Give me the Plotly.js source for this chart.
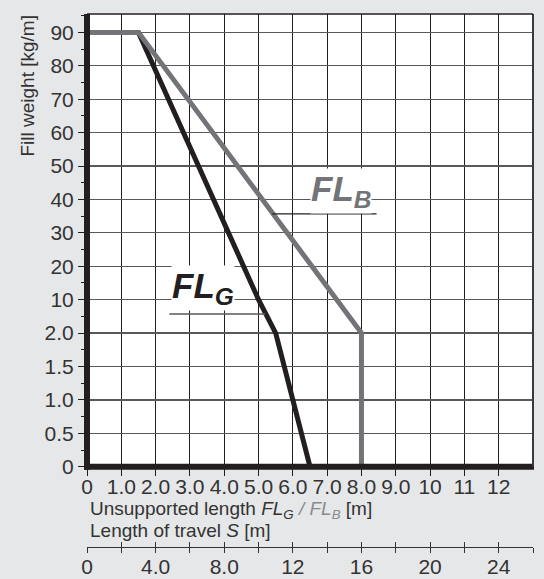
<!DOCTYPE html>
<html><head><meta charset="utf-8">
<script src="https://cdn.plot.ly/plotly-3.0.1.min.js"></script>
<style>html,body{margin:0;padding:0;background:#e6e7e8}</style>
</head><body>
<div id="chart" style="width:544px;height:579px"></div>
<script>
// ---- data ----
const fillLevels = [0, 0.5, 1.0, 1.5, 2.0, 10, 20, 30, 40, 50, 60, 70, 80, 90];
const fillLabels = ['0','0.5','1.0','1.5','2.0','10','20','30','40','50','60','70','80','90'];
const lenTicks = [0,1,2,3,4,5,6,7,8,9,10,11,12];
const lenLabels = ['0','1.0','2.0','3.0','4.0','5.0','6.0','7.0','8.0','9.0','10','11','12'];
const travelTicks = [0,4,8,12,16,20,24];
const travelLabels = ['0','4.0','8.0','12','16','20','24'];
const travelMinor = [0,2,4,6,8,10,12,14,16,18,20,22,24,26];

const flG_len = [0, 1.5, 5.0, 5.5, 6.5];
const flG_weight = [90, 90, 10, 2.0, 0];
const flB_len = [0, 1.5, 8.0, 8.0];
const flB_weight = [90, 90, 2.0, 0];

// piecewise (broken) fill-weight scale -> row index
function toRow(v){
  for (let i = 0; i < fillLevels.length - 1; i++){
    const a = fillLevels[i], b = fillLevels[i+1];
    if (v >= a && v <= b) return i + (v - a) / (b - a);
  }
  return fillLevels.length - 1;
}
const rows = fillLevels.map((_, i) => i);

// ---- layout constants ----
const W = 544, H = 579, mT = 14, mB = 0, mL = 87, mR = 11;
const plotBottomPx = 466.7;
const yDomLo = (H - plotBottomPx) / (H - mT - mB);
const rowTop = 13.55;
const lenMax = 13;
const BLACK = '#231f20', GREY = '#737477', TXT = '#333333';
const FONT = 'Liberation Sans, Arial, sans-serif';
function pyToPaper(px){ return (H - px) / (H - mT - mB); }
function pxToPaperX(px){ return (px - mL) / (W - mL - mR); }

const traces = [
  {x: flG_len, y: flG_weight.map(toRow), mode: 'lines', line: {color: BLACK, width: 5}, hoverinfo: 'skip', showlegend: false},
  {x: flB_len, y: flB_weight.map(toRow), mode: 'lines', line: {color: GREY, width: 5}, hoverinfo: 'skip', showlegend: false},
  {x: [0], y: [0], xaxis: 'x2', yaxis: 'y', mode: 'markers', marker: {size: 0.1, opacity: 0}, showlegend: false, hoverinfo: 'skip'},
  {x: [0], y: [0], xaxis: 'x3', yaxis: 'y', mode: 'markers', marker: {size: 0.1, opacity: 0}, showlegend: false, hoverinfo: 'skip'}
];

const axisPos = pyToPaper(547);

const layout = {
  width: W, height: H,
  margin: {l: mL, r: mR, t: mT, b: mB},
  paper_bgcolor: '#e6e7e8', plot_bgcolor: '#ffffff',
  font: {family: FONT, color: TXT},
  showlegend: false,
  xaxis: {
    range: [0, lenMax], fixedrange: true,
    tickmode: 'array', tickvals: lenTicks, ticktext: lenLabels,
    ticks: 'outside', ticklen: 8, tickcolor: BLACK, tickwidth: 1,
    ticklabelstandoff: -7,
    tickfont: {size: 21, color: TXT},
    showgrid: true, gridcolor: BLACK, gridwidth: 1,
    zeroline: false, showline: false, automargin: false
  },
  xaxis2: {
    overlaying: 'x', anchor: 'free', position: axisPos, side: 'bottom',
    range: [0, 2 * lenMax], fixedrange: true,
    tickmode: 'array', tickvals: travelTicks, ticktext: travelLabels,
    ticks: 'outside', ticklen: 5, tickcolor: TXT, tickwidth: 1,
    ticklabelstandoff: -4,
    minor: {tickmode: 'array', tickvals: travelMinor, ticks: 'outside', ticklen: 5, tickcolor: TXT, tickwidth: 1, showgrid: false},
    tickfont: {size: 21, color: TXT},
    showline: true, linecolor: TXT, linewidth: 1,
    showgrid: false, zeroline: false, automargin: false
  },
  xaxis3: {
    overlaying: 'x', anchor: 'free', position: axisPos, side: 'bottom',
    range: [0, 2 * lenMax], fixedrange: true,
    tickmode: 'array', tickvals: travelMinor,
    ticks: 'inside', ticklen: 5, tickcolor: TXT, tickwidth: 1,
    showticklabels: false, showline: false, showgrid: false, zeroline: false, automargin: false
  },
  yaxis: {
    domain: [yDomLo, 1],
    range: [0, rowTop], fixedrange: true,
    tickmode: 'array', tickvals: rows, ticktext: fillLabels,
    ticks: 'outside', ticklen: 8, tickcolor: BLACK, tickwidth: 1,
    minor: {tickmode: 'linear', tick0: 0.5, dtick: 1, ticks: 'outside', ticklen: 5, tickcolor: BLACK, tickwidth: 1, showgrid: false},
    tickfont: {size: 21, color: TXT},
    showgrid: true, gridcolor: '#58595b', gridwidth: 1.3,
    zeroline: false, showline: false, automargin: false
  },
  shapes: [
    // frame
    {type: 'line', xref: 'paper', yref: 'paper', x0: 0, x1: 0, y0: yDomLo - 3/565, y1: 1, line: {color: BLACK, width: 6}, layer: 'above'},
    {type: 'line', xref: 'paper', yref: 'paper', x0: -3/446, x1: 1 + 1/446, y0: yDomLo, y1: yDomLo, line: {color: BLACK, width: 6}, layer: 'above'},
    {type: 'line', xref: 'paper', yref: 'paper', x0: 1, x1: 1, y0: yDomLo, y1: 1, line: {color: '#3a3a3a', width: 2}, layer: 'above'},
    {type: 'line', xref: 'paper', yref: 'paper', x0: 0, x1: 1, y0: 1, y1: 1, line: {color: BLACK, width: 1.5}, layer: 'above'},
    // leader lines under labels
    {type: 'line', xref: 'x', yref: 'y', x0: 5.4, x1: 8.44, y0: 7.57, y1: 7.57, line: {color: BLACK, width: 1.3}, layer: 'above'},
    {type: 'line', xref: 'x', yref: 'y', x0: 2.4, x1: 5.2, y0: 4.57, y1: 4.57, line: {color: '#58595b', width: 1.3}, layer: 'above'}
  ],
  annotations: [
    {text: 'Fill weight [kg/m]', xref: 'paper', yref: 'paper', x: pxToPaperX(27), y: pyToPaper(86.5),
     textangle: -90, showarrow: false, xanchor: 'center', yanchor: 'middle', font: {size: 19, color: TXT}},
    {text: 'Unsupported length <i>FL<sub>G</sub></i> <span style="color:#8a8b8d"><i>/ FL<sub>B</sub></i></span> [m]',
     xref: 'paper', yref: 'paper', x: pxToPaperX(88), y: pyToPaper(510), showarrow: false,
     xanchor: 'left', yanchor: 'middle', align: 'left', font: {size: 19, color: TXT}},
    {text: 'Length of travel <i>S</i> [m]',
     xref: 'paper', yref: 'paper', x: pxToPaperX(88), y: pyToPaper(530), showarrow: false,
     xanchor: 'left', yanchor: 'middle', align: 'left', font: {size: 19, color: TXT}},
    {text: '<b><i>FL<sub>B</sub></i></b>', xref: 'x', yref: 'y', x: 6.5, y: 8.25, showarrow: false,
     xanchor: 'left', yanchor: 'middle', bgcolor: '#ffffff', borderpad: 0,
     font: {size: 35, color: GREY, family: FONT}},
    {text: '<b><i>FL<sub>G</sub></i></b>', xref: 'x', yref: 'y', x: 2.45, y: 5.35, showarrow: false,
     xanchor: 'left', yanchor: 'middle', bgcolor: '#ffffff', borderpad: 0,
     font: {size: 35, color: BLACK, family: FONT}}
  ]
};

Plotly.newPlot('chart', traces, layout, {displayModeBar: false, staticPlot: true});
</script>
</body></html>
